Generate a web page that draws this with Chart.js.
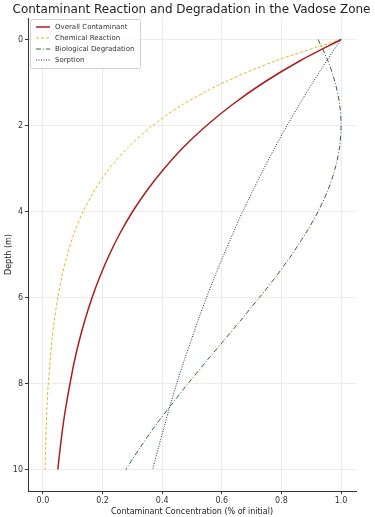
<!DOCTYPE html>
<html>
<head>
<meta charset="utf-8">
<script src="https://cdn.jsdelivr.net/npm/chart.js@4.4.0/dist/chart.umd.min.js"></script>
<style>
  html, body { margin: 0; padding: 0; background: #fff; }
  #wrap { width: 375px; height: 517px; }
</style>
</head>
<body>
<div id="wrap"><canvas id="myChart"></canvas></div>
<script>
// depth (m)
const depth = [0, 0.5, 1, 1.5, 2, 2.5, 3, 3.5, 4, 4.5, 5, 5.5, 6, 6.5, 7, 7.5, 8, 8.5, 9, 9.5, 10];

// concentration (fraction of initial)
const overall = [1.000, 0.861, 0.741, 0.638, 0.549, 0.472, 0.407, 0.350, 0.301, 0.259, 0.223, 0.192, 0.165, 0.142, 0.122, 0.105, 0.091, 0.078, 0.067, 0.058, 0.050];
const chemical = [1.000, 0.779, 0.607, 0.472, 0.368, 0.287, 0.223, 0.174, 0.135, 0.105, 0.082, 0.064, 0.050, 0.039, 0.030, 0.024, 0.018, 0.014, 0.011, 0.009, 0.007];
const biological = [0.923, 0.956, 0.980, 0.995, 1.000, 0.995, 0.980, 0.956, 0.923, 0.882, 0.835, 0.783, 0.726, 0.667, 0.607, 0.546, 0.487, 0.430, 0.375, 0.325, 0.278];
const sorption = [1.000, 0.951, 0.905, 0.861, 0.819, 0.779, 0.741, 0.705, 0.670, 0.638, 0.607, 0.577, 0.549, 0.522, 0.497, 0.472, 0.449, 0.427, 0.407, 0.387, 0.368];

const xTicks = [0, 0.2, 0.4, 0.6, 0.8, 1.0];
const yTicks = [0, 2, 4, 6, 8, 10];

const chartTitle = 'Contaminant Reaction and Degradation in the Vadose Zone';

const toPts = vals => vals.map((v, i) => ({ x: v, y: depth[i] }));

const FONT = 'DejaVu Sans';

// title centred on the whole canvas (matplotlib style)
const canvasTitle = {
    id: 'canvasTitle',
    afterDraw(chart) {
        const ctx = chart.ctx;
        ctx.save();
        ctx.font = '12px ' + FONT;
        ctx.fillStyle = '#222';
        ctx.textAlign = 'center';
        ctx.textBaseline = 'middle';
        ctx.fillText(chartTitle, chart.width / 2 + 4, 10);
        ctx.restore();
    }
};

// legend drawn inside the plot, top left
const innerLegend = {
    id: 'innerLegend',
    afterDraw(chart) {
        const ctx = chart.ctx;
        const area = chart.chartArea;
        const x0 = area.left + 2, y0 = area.top + 1;
        const w = 110, rowH = 11, h = chart.data.datasets.length * rowH + 5;
        ctx.save();
        ctx.fillStyle = 'rgba(255,255,255,0.85)';
        ctx.strokeStyle = '#d0d0d0';
        ctx.lineWidth = 1;
        ctx.beginPath();
        ctx.roundRect(x0 + 0.5, y0 + 0.5, w, h, 2);
        ctx.fill();
        ctx.stroke();
        ctx.font = '7px ' + FONT;
        ctx.textBaseline = 'middle';
        chart.data.datasets.forEach((ds, i) => {
            const yy = y0 + 8 + i * rowH;
            ctx.strokeStyle = ds.borderColor;
            ctx.lineWidth = ds.borderWidth;
            ctx.setLineDash(ds.borderDash || []);
            ctx.beginPath();
            ctx.moveTo(x0 + 6, yy);
            ctx.lineTo(x0 + 20, yy);
            ctx.stroke();
            ctx.setLineDash([]);
            ctx.fillStyle = '#333';
            ctx.fillText(ds.label, x0 + 25, yy);
        });
        ctx.restore();
    }
};

const data = {
    datasets: [{
        label: 'Overall Contaminant',
        data: toPts(overall),
        borderColor: '#a91e1e',
        borderWidth: 1.5
    }, {
        label: 'Chemical Reaction',
        data: toPts(chemical),
        borderColor: '#e6b422',
        borderWidth: 1,
        borderDash: [3, 2]
    }, {
        label: 'Biological Degradation',
        data: toPts(biological),
        borderColor: '#2e6b2e',
        borderWidth: 1,
        borderDash: [5, 2, 1, 2]
    }, {
        label: 'Sorption',
        data: toPts(sorption),
        borderColor: '#1c2a4a',
        borderWidth: 1,
        borderDash: [1, 1.5]
    }]
};

const config = {
    type: 'line',
    data: data,
    options: {
        responsive: true,
        maintainAspectRatio: false,
        animation: false,
        layout: { padding: { left: 0, right: 19, top: 18, bottom: 0 } },
        elements: { point: { radius: 0 }, line: { tension: 0.3, fill: false } },
        plugins: {
            legend: { display: false },
            tooltip: { enabled: false },
            title: { display: false }
        },
        scales: {
            x: {
                type: 'linear',
                min: -0.05,
                max: 1.05,
                afterBuildTicks: s => { s.ticks = xTicks.map(v => ({ value: v })); },
                afterFit: s => { s.height = 26; },
                ticks: {
                    color: '#333',
                    font: { family: FONT, size: 8 },
                    padding: 2,
                    maxRotation: 0,
                    callback: v => v.toFixed(1)
                },
                grid: { color: '#ececec', tickColor: '#333', tickLength: 3 },
                border: { color: '#333', width: 1 },
                title: {
                    display: true,
                    text: 'Contaminant Concentration (% of initial)',
                    color: '#222',
                    font: { family: FONT, size: 8 },
                    padding: { top: 0, bottom: 0 }
                }
            },
            y: {
                type: 'linear',
                reverse: true,
                min: -0.5,
                max: 10.5,
                afterBuildTicks: s => { s.ticks = yTicks.map(v => ({ value: v })); },
                afterFit: s => { s.width = 28; },
                ticks: {
                    color: '#333',
                    font: { family: FONT, size: 8 },
                    padding: 2
                },
                grid: { color: '#ececec', tickColor: '#333', tickLength: 3 },
                border: { color: '#333', width: 1 },
                title: {
                    display: true,
                    text: 'Depth (m)',
                    color: '#222',
                    font: { family: FONT, size: 8 },
                    padding: { top: 4, bottom: 0 }
                }
            }
        }
    },
    plugins: [innerLegend, canvasTitle]
};

window.onload = function() {
    const ctx = document.getElementById('myChart').getContext('2d');
    new Chart(ctx, config);
};
</script>
</body>
</html>
